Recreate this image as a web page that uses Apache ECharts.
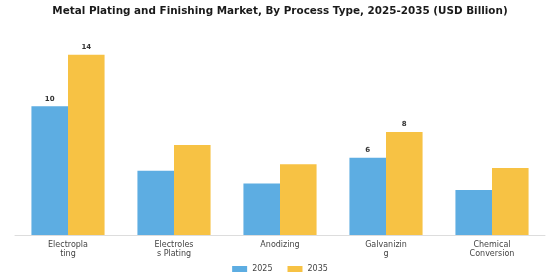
<!DOCTYPE html>
<html><head><meta charset="utf-8">
<script src="https://cdn.jsdelivr.net/npm/echarts@6/dist/echarts.min.js"></script>
<style>html,body{margin:0;padding:0;background:#fff}#c{width:560px;height:280px}</style>
</head><body><div id="c"></div>
<script>
const categories = ["Electropla\nting", "Electroles\ns Plating", "Anodizing", "Galvanizin\ng", "Chemical\nConversion"];
const seriesNames = ["2025", "2035"];
const values2025 = [10, 5, 4, 6, 3.5];
const values2035 = [14, 7, 5.5, 8, 5.2];
const labeledIdx = [0, 3];
const colors = ["#5DADE2", "#F7C244"];

function mk(vals){
  return vals.map((v,i)=>({value:v, label:{show: labeledIdx.includes(i)}}));
}
const chart = echarts.init(document.getElementById('c'), null, {renderer:'canvas'});
const lbl = {position:'top', distance:4, color:'#333', fontSize:7, fontWeight:'bold', fontFamily:'DejaVu Sans'};
chart.setOption({
  animation:false,
  backgroundColor:'#fff',
  title:{text:'Metal Plating and Finishing Market, By Process Type, 2025-2035 (USD Billion)', left:'center', top:1,
    textStyle:{fontFamily:'DejaVu Sans', fontWeight:'bold', fontSize:10.4, color:'#1a1a1a'}},
  legend:{data:seriesNames, bottom:2, left:'center', itemWidth:15, itemHeight:6, itemGap:15,
    icon:'rect', textStyle:{fontFamily:'DejaVu Sans', fontSize:8, color:'#444'}},
  grid:{left:15, right:15, top:29, bottom:45},
  xAxis:{type:'category', data:categories,
    axisLine:{lineStyle:{color:'#ddd'}}, axisTick:{show:false},
    axisLabel:{fontFamily:'DejaVu Sans', fontSize:8, color:'#444', lineHeight:9, margin:5, interval:0}},
  yAxis:{type:'value', min:0, max:16, show:false, splitLine:{show:false}},
  series:[
    {name:seriesNames[0], type:'bar', data:mk(values2025), itemStyle:{color:colors[0]}, barGap:'0%', barCategoryGap:'31%', label:lbl},
    {name:seriesNames[1], type:'bar', data:mk(values2035), itemStyle:{color:colors[1]}, barGap:'0%', barCategoryGap:'31%', label:lbl}
  ]
});
</script></body></html>
